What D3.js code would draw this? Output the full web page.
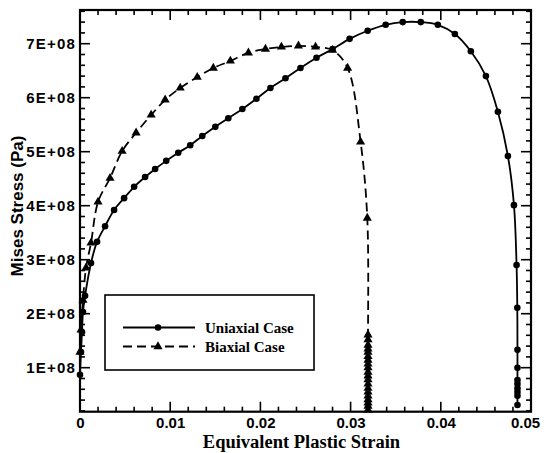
<!DOCTYPE html>
<html>
<head>
<meta charset="utf-8">
<script src="https://cdn.jsdelivr.net/npm/d3@7"></script>
<style>
  html, body { margin: 0; padding: 0; background: #fff; }
  svg { display: block; }
</style>
</head>
<body>
<svg id="chart" width="547" height="453"></svg>
<script>
// Uniaxial case: equivalent plastic strain vs. Mises stress (Pa)
const uniStrain = [0, 0.00011, 0.00022, 0.00033, 0.00056, 0.00122, 0.00189, 0.00278, 0.00378, 0.00489,
  0.0060, 0.00722, 0.00833, 0.00956, 0.01089, 0.01222, 0.01356, 0.0150, 0.01644, 0.0180,
  0.01956, 0.02111, 0.02278, 0.02444, 0.02622, 0.0280, 0.02989, 0.03189, 0.03389, 0.03578,
  0.03778, 0.03967, 0.04156, 0.04333, 0.0450, 0.04633, 0.04744, 0.04811, 0.04840, 0.04848,
  0.0485, 0.0485, 0.0485, 0.0485, 0.0485, 0.0485, 0.0485, 0.0485];
const uniStress = [0.87e8, 1.29e8, 1.66e8, 2.03e8, 2.33e8, 2.94e8, 3.33e8, 3.62e8, 3.92e8, 4.14e8,
  4.35e8, 4.53e8, 4.68e8, 4.83e8, 4.98e8, 5.12e8, 5.29e8, 5.46e8, 5.62e8, 5.79e8,
  5.98e8, 6.18e8, 6.36e8, 6.55e8, 6.74e8, 6.90e8, 7.09e8, 7.24e8, 7.35e8, 7.40e8,
  7.40e8, 7.35e8, 7.18e8, 6.86e8, 6.40e8, 5.74e8, 4.92e8, 4.01e8, 2.90e8, 2.11e8,
  1.33e8, 1.00e8, 0.77e8, 0.70e8, 0.62e8, 0.55e8, 0.48e8, 0.31e8];

// Biaxial case
const biStrain = [0, 0.00011, 0.00033, 0.00067, 0.00122, 0.0020, 0.00333, 0.00467, 0.00622, 0.00789,
  0.00944, 0.01111, 0.0130, 0.01478, 0.01667, 0.01867, 0.02056, 0.02233, 0.02422, 0.02611,
  0.0280, 0.02967, 0.03111, 0.03185, 0.03193, 0.03193, 0.03193, 0.03193, 0.03193, 0.03193,
  0.03193, 0.03193, 0.03193, 0.03193, 0.03193, 0.03193, 0.03193, 0.03193, 0.03193, 0.03193,
  0.03193, 0.03193, 0.03193, 0.03193];
const biStress = [1.29e8, 1.70e8, 2.25e8, 2.85e8, 3.31e8, 4.07e8, 4.51e8, 5.01e8, 5.35e8, 5.68e8,
  5.96e8, 6.18e8, 6.38e8, 6.55e8, 6.68e8, 6.83e8, 6.90e8, 6.94e8, 6.96e8, 6.94e8,
  6.88e8, 6.55e8, 5.18e8, 3.77e8, 1.61e8, 1.52e8, 1.42e8, 1.35e8, 1.29e8, 1.21e8,
  1.14e8, 1.07e8, 1.00e8, 0.92e8, 0.85e8, 0.78e8, 0.70e8, 0.62e8, 0.55e8, 0.48e8,
  0.41e8, 0.35e8, 0.29e8, 0.22e8];

const seriesNames = ["Uniaxial Case", "Biaxial Case"];
const xTicks = [0, 0.01, 0.02, 0.03, 0.04, 0.05];
const xTickLabels = ["0", "0.01", "0.02", "0.03", "0.04", "0.05"];
const yTicks = [1e8, 2e8, 3e8, 4e8, 5e8, 6e8, 7e8];
const yTickLabels = ["1E+08", "2E+08", "3E+08", "4E+08", "5E+08", "6E+08", "7E+08"];

const svg = d3.select("#chart");
const plotLeft = 80, plotRight = 531, plotTop = 10, plotBottom = 411.7;

const x = d3.scaleLinear().domain([0, 0.05]).range([plotLeft, plotRight]);
const y = d3.scaleLinear().domain([0.185e8, 7.624e8]).range([plotBottom, plotTop]);

const sansBold = "'Liberation Sans', Arial, sans-serif";
const serifBold = "'Liberation Serif', 'Times New Roman', serif";

// minor / major ticks on all four sides, pointing inward
const xMinor = d3.range(0, 0.0501, 0.002);
const yMinor = d3.range(0.2e8, 7.61e8, 0.2e8);
const g = svg.append("g").attr("stroke", "#000").attr("stroke-width", 1.6);

function isMajorX(v) { return xTicks.some(t => Math.abs(t - v) < 1e-9); }
function isMajorY(v) { return yTicks.some(t => Math.abs(t - v) < 1); }

xMinor.forEach(v => {
  const len = isMajorX(v) ? 10 : 5;
  g.append("line").attr("x1", x(v)).attr("x2", x(v)).attr("y1", plotBottom).attr("y2", plotBottom - len);
  g.append("line").attr("x1", x(v)).attr("x2", x(v)).attr("y1", plotTop).attr("y2", plotTop + len);
});
yMinor.forEach(v => {
  const len = isMajorY(v) ? 10 : 5;
  g.append("line").attr("y1", y(v)).attr("y2", y(v)).attr("x1", plotLeft).attr("x2", plotLeft + len);
  g.append("line").attr("y1", y(v)).attr("y2", y(v)).attr("x1", plotRight).attr("x2", plotRight - len);
});

// axis labels via d3 axes (tick lines hidden, frame drawn separately)
const xAxis = d3.axisBottom(x).tickValues(xTicks).tickSize(0).tickPadding(6)
  .tickFormat((d, i) => xTickLabels[i]);
const gx = svg.append("g").attr("transform", `translate(0,${plotBottom})`).call(xAxis);
gx.select(".domain").remove();
gx.selectAll("text").attr("font-family", sansBold).attr("font-weight", "bold")
  .attr("font-size", 15).attr("fill", "#000")
  .attr("dx", (d, i) => i === xTicks.length - 1 ? -6 : 0);

const yAxis = d3.axisLeft(y).tickValues(yTicks).tickSize(0).tickPadding(4)
  .tickFormat((d, i) => yTickLabels[i]);
const gy = svg.append("g").attr("transform", `translate(${plotLeft},0)`).call(yAxis);
gy.select(".domain").remove();
gy.selectAll("text").attr("font-family", sansBold).attr("font-weight", "bold")
  .attr("font-size", 15).attr("letter-spacing", 1.2).attr("fill", "#000");

// frame
svg.append("rect").attr("x", plotLeft).attr("y", plotTop)
  .attr("width", plotRight - plotLeft).attr("height", plotBottom - plotTop)
  .attr("fill", "none").attr("stroke", "#000").attr("stroke-width", 2.2);

// axis titles
svg.append("text").attr("x", (plotLeft + plotRight) / 2 - 4).attr("y", 448)
  .attr("text-anchor", "middle").attr("font-family", serifBold).attr("font-weight", "bold")
  .attr("font-size", 18.5).text("Equivalent Plastic Strain");
svg.append("text").attr("transform", "translate(23,206) rotate(-90)")
  .attr("text-anchor", "middle").attr("font-family", sansBold).attr("font-weight", "bold")
  .attr("font-size", 17).text("Mises Stress (Pa)");

// curves
const uniData = uniStrain.map((s, i) => [s, uniStress[i]]);
const biData = biStrain.map((s, i) => [s, biStress[i]]);
const line = d3.line().x(d => x(d[0])).y(d => y(d[1])).curve(d3.curveCatmullRom.alpha(0.5));

const plot = svg.append("g");
plot.append("path").datum(uniData).attr("d", line)
  .attr("fill", "none").attr("stroke", "#000").attr("stroke-width", 1.8);
plot.append("path").datum(biData).attr("d", line)
  .attr("fill", "none").attr("stroke", "#000").attr("stroke-width", 1.8)
  .attr("stroke-dasharray", "9,5");

const tri = d3.symbol().type(d3.symbolTriangle).size(36);
plot.selectAll("circle.uni").data(uniData).join("circle").attr("class", "uni")
  .attr("cx", d => x(d[0])).attr("cy", d => y(d[1])).attr("r", 3.3).attr("fill", "#000");
plot.selectAll("path.bi").data(biData).join("path").attr("class", "bi")
  .attr("d", tri).attr("transform", d => `translate(${x(d[0])},${y(d[1])})`).attr("fill", "#000");

// legend
const lg = svg.append("g");
lg.append("rect").attr("x", 105).attr("y", 295).attr("width", 209).attr("height", 75)
  .attr("fill", "#fff").attr("stroke", "#000").attr("stroke-width", 1.6);
const rows = [{ y: 327.5, dash: null }, { y: 346.5, dash: "9,5" }];
rows.forEach((r, i) => {
  const ln = lg.append("line").attr("x1", 123).attr("x2", 195).attr("y1", r.y).attr("y2", r.y)
    .attr("stroke", "#000").attr("stroke-width", 1.8);
  if (r.dash) ln.attr("stroke-dasharray", r.dash);
  if (i === 0) lg.append("circle").attr("cx", 158).attr("cy", r.y).attr("r", 3.3).attr("fill", "#000");
  else lg.append("path").attr("d", tri).attr("transform", `translate(158,${r.y})`).attr("fill", "#000");
  lg.append("text").attr("x", 205).attr("y", r.y).attr("dy", "0.35em")
    .attr("font-family", serifBold).attr("font-weight", "bold").attr("font-size", 15)
    .text(seriesNames[i]);
});
</script>
</body>
</html>
